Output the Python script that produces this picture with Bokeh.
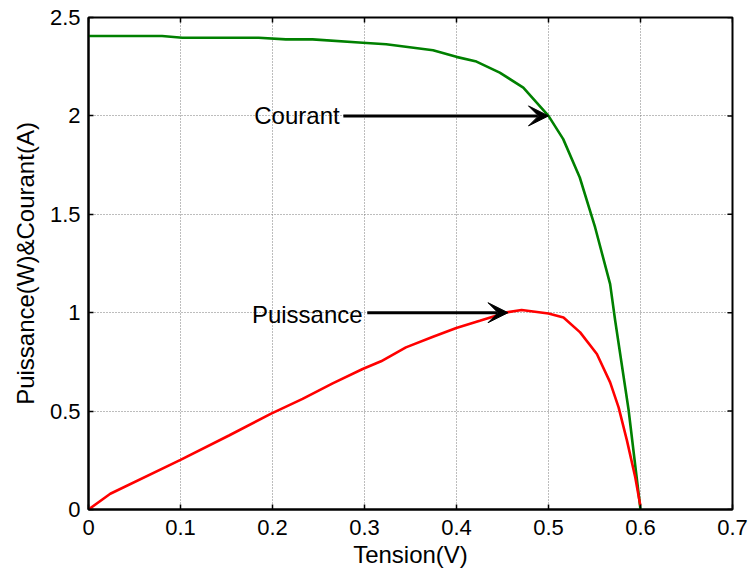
from bokeh.plotting import figure
from bokeh.models import Range1d, FixedTicker, Arrow, VeeHead, Label
from bokeh.embed import file_html
from bokeh.resources import INLINE

# ---- data ----
tension_courant = [0, 0.08, 0.102, 0.185, 0.2145, 0.2436, 0.298, 0.3236, 0.3745, 0.3998,
                   0.4217, 0.447, 0.4726, 0.5, 0.516, 0.534, 0.5507, 0.567, 0.5725, 0.587, 0.6]
courant = [2.406, 2.406, 2.397, 2.397, 2.389, 2.389, 2.372, 2.364, 2.334, 2.30,
           2.276, 2.22, 2.144, 2.0, 1.882, 1.687, 1.433, 1.145, 0.959, 0.508, 0.0]

tension_puissance = [0, 0.0237, 0.1, 0.1527, 0.198, 0.2327, 0.2654, 0.298, 0.318, 0.345,
                     0.3745, 0.3998, 0.4253, 0.4544, 0.4708, 0.5, 0.5163, 0.5344, 0.5526,
                     0.567, 0.5762, 0.5853, 0.5943, 0.5998]
puissance = [0, 0.08, 0.252, 0.376, 0.486, 0.562, 0.641, 0.714, 0.753, 0.824,
             0.878, 0.922, 0.959, 1.0015, 1.014, 0.996, 0.976, 0.9, 0.79,
             0.646, 0.519, 0.35, 0.164, 0.02]

x_ticks = [0, 0.1, 0.2, 0.3, 0.4, 0.5, 0.6, 0.7]
x_tick_labels = ["0", "0.1", "0.2", "0.3", "0.4", "0.5", "0.6", "0.7"]
y_ticks = [0, 0.5, 1, 1.5, 2, 2.5]
y_tick_labels = ["0", "0.5", "1", "1.5", "2", "2.5"]

FONT = "Liberation Sans"
X0, X1, Y0, Y1 = 0, 0.7, 0, 2.5

p = figure(width=749, height=571, output_backend="svg", toolbar_location=None,
           x_range=Range1d(X0, X1), y_range=Range1d(Y0, Y1),
           min_border_left=88, min_border_right=17, min_border_top=17, min_border_bottom=62)
p.background_fill_color = "white"
p.border_fill_color = "white"
p.outline_line_color = "black"
p.outline_line_width = 2

p.line(tension_courant, courant, line_color="#008000", line_width=2.6)
p.line(tension_puissance, puissance, line_color="#ff0000", line_width=2.6)

# inside tick marks on the top and right edges (MATLAB box style)
tick_dy = (Y1 - Y0) * 5 / 492
tick_dx = (X1 - X0) * 5 / 643
p.segment(x0=x_ticks, y0=[Y1] * len(x_ticks), x1=x_ticks, y1=[Y1 - tick_dy] * len(x_ticks),
          line_color="black", line_width=1.5)
p.segment(x0=[X1] * len(y_ticks), y0=y_ticks, x1=[X1 - tick_dx] * len(y_ticks), y1=y_ticks,
          line_color="black", line_width=1.5)

p.xaxis.ticker = FixedTicker(ticks=x_ticks)
p.xaxis.major_label_overrides = {t: l for t, l in zip(x_ticks, x_tick_labels)}
p.yaxis.ticker = FixedTicker(ticks=y_ticks)
p.yaxis.major_label_overrides = {t: l for t, l in zip(y_ticks, y_tick_labels)}

for ax in list(p.xaxis) + list(p.yaxis):
    ax.major_tick_in = 5
    ax.major_tick_out = 0
    ax.minor_tick_line_color = None
    ax.major_tick_line_color = "black"
    ax.major_tick_line_width = 1.5
    ax.axis_line_color = "black"
    ax.axis_line_width = 2
    ax.major_label_text_color = "black"
    ax.major_label_text_font = FONT
    ax.major_label_text_font_size = "22px"
    ax.axis_label_text_font = FONT
    ax.axis_label_text_font_style = "normal"
    ax.axis_label_text_color = "black"
    ax.axis_label_text_font_size = "24px"

p.xaxis.axis_label = "Tension(V)"
p.xaxis.major_label_standoff = 10
p.xaxis.axis_label_standoff = 3
p.yaxis.axis_label = "Puissance(W)&Courant(A)"
p.yaxis.major_label_standoff = 8
p.yaxis.axis_label_standoff = 8

p.xgrid.ticker = FixedTicker(ticks=x_ticks)
p.ygrid.ticker = FixedTicker(ticks=y_ticks)
for g in (p.xgrid, p.ygrid):
    g.grid_line_color = "#7a7a7a"
    g.grid_line_dash = "1 2"
    g.grid_line_width = 1

# annotations
p.add_layout(Arrow(x_start=0.277, y_start=2.0, x_end=0.5, y_end=2.0, line_width=3,
                   line_color="black",
                   end=VeeHead(size=20, fill_color="black", line_color="black", line_width=1)))
p.add_layout(Arrow(x_start=0.303, y_start=1.0, x_end=0.456, y_end=1.0, line_width=3,
                   line_color="black",
                   end=VeeHead(size=20, fill_color="black", line_color="black", line_width=1)))
p.add_layout(Label(x=0.273, y=2.0, text="Courant", text_align="right", text_baseline="middle",
                   text_font=FONT, text_font_size="24px", text_color="black"))
p.add_layout(Label(x=0.298, y=0.99, text="Puissance", text_align="right", text_baseline="middle",
                   text_font=FONT, text_font_size="24px", text_color="black"))

open("out.html", "w").write(file_html(p, INLINE))
